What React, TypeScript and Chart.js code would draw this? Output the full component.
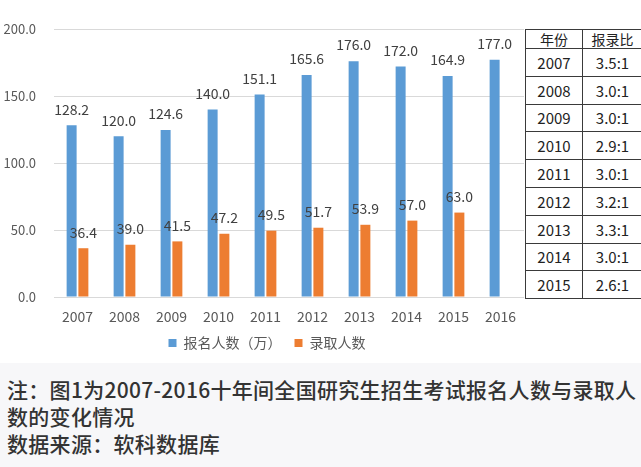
import React, { useEffect, useRef } from "react";
import { Chart, registerables } from "chart.js";

Chart.register(...registerables);

const years = ["2007", "2008", "2009", "2010", "2011", "2012", "2013", "2014", "2015", "2016"];
const applicants = [128.2, 120.0, 124.6, 140.0, 151.1, 165.6, 176.0, 172.0, 164.9, 177.0];
const admitted: (number | null)[] = [36.4, 39.0, 41.5, 47.2, 49.5, 51.7, 53.9, 57.0, 63.0, null];
const seriesNames = ["报名人数（万）", "录取人数"];
const yMin = 0;
const yMax = 200;
const yStep = 50;

const tableHeader = ["年份", "报录比"];
const tableYears = ["2007", "2008", "2009", "2010", "2011", "2012", "2013", "2014", "2015"];
const tableRatios = ["3.5:1", "3.0:1", "3.0:1", "2.9:1", "3.0:1", "3.2:1", "3.3:1", "3.0:1", "2.6:1"];

const noteLines = [
  "注：图1为2007-2016十年间全国研究生招生考试报名人数与录取人",
  "数的变化情况",
  "数据来源：软科数据库",
];

const FONT = '"Noto Sans CJK SC", "Noto Sans", sans-serif';

const valueLabels = {
  id: "valueLabels",
  afterDatasetsDraw(chart: any) {
    const ctx = chart.ctx;
    ctx.save();
    ctx.font = `14px ${FONT}`;
    ctx.fillStyle = "#404040";
    ctx.textAlign = "center";
    ctx.textBaseline = "middle";
    chart.data.datasets.forEach((ds: any, i: number) => {
      const meta = chart.getDatasetMeta(i);
      meta.data.forEach((bar: any, j: number) => {
        const v = ds.data[j];
        if (v == null) return;
        ctx.fillText(Number(v).toFixed(1), bar.x, bar.y - 16);
      });
    });
    ctx.restore();
  },
};

export default function App() {
  const ref = useRef<HTMLCanvasElement | null>(null);

  useEffect(() => {
    if (!ref.current) return;
    const chart = new Chart(ref.current, {
      type: "bar",
      data: {
        labels: years,
        datasets: [
          {
            label: seriesNames[0],
            data: applicants,
            backgroundColor: "#5b9bd5",
            categoryPercentage: 0.5,
            barPercentage: 0.85,
          },
          {
            label: seriesNames[1],
            data: admitted,
            backgroundColor: "#ed7d31",
            categoryPercentage: 0.5,
            barPercentage: 0.85,
          },
        ],
      },
      options: {
        responsive: false,
        animation: false,
        layout: { padding: { top: 29, right: 0, left: 0, bottom: 4 } },
        scales: {
          x: {
            afterFit: (s: any) => {
              s.height = 26;
            },
            grid: { display: false, drawTicks: false },
            border: { display: false },
            ticks: { color: "#595959", font: { size: 14, family: FONT }, padding: 11 },
          },
          y: {
            min: yMin,
            max: yMax,
            afterFit: (s: any) => {
              s.width = 54;
            },
            grid: { color: "#d9d9d9", drawTicks: false },
            border: { display: false },
            ticks: {
              stepSize: yStep,
              color: "#595959",
              font: { size: 13, family: FONT },
              padding: 18,
              callback: (v: any) => Number(v).toFixed(1),
            },
          },
          yRightSpacer: {
            type: "linear",
            position: "right",
            min: yMin,
            max: yMax,
            afterFit: (s: any) => {
              s.width = 10;
            },
            grid: { display: false, drawTicks: false },
            border: { display: false },
            ticks: { display: false },
          },
        },
        plugins: {
          legend: {
            position: "bottom",
            labels: {
              boxWidth: 8,
              boxHeight: 8,
              color: "#595959",
              font: { size: 14, family: FONT },
              padding: 13,
            },
          },
          tooltip: { enabled: false },
        },
      },
      plugins: [valueLabels],
    });
    return () => chart.destroy();
  }, []);

  const cell: React.CSSProperties = {
    border: "1px solid #3a3a3a",
    textAlign: "center",
    padding: 0,
    fontSize: 15,
    color: "#222",
    height: 26.8,
  };

  return (
    <div style={{ position: "absolute", left: 0, top: 0, width: 641, height: 467, background: "#fff", fontFamily: FONT, overflow: "hidden" }}>
      <canvas ref={ref} width={534} height={364} style={{ position: "absolute", left: 0, top: 0, width: 534, height: 364 }} />
      <table
        style={{
          position: "absolute",
          left: 525,
          top: 29,
          width: 118,
          borderCollapse: "collapse",
          fontFamily: FONT,
          background: "#fff",
        }}
      >
        <thead>
          <tr>
            {tableHeader.map((h) => (
              <th key={h} style={{ ...cell, height: 18, fontWeight: 400, fontSize: 14, lineHeight: "18px" }}>
                {h}
              </th>
            ))}
          </tr>
        </thead>
        <tbody>
          {tableYears.map((y, i) => (
            <tr key={y}>
              <td style={{ ...cell, width: 56 }}>{y}</td>
              <td style={cell}>{tableRatios[i]}</td>
            </tr>
          ))}
        </tbody>
      </table>
      <div
        style={{
          position: "absolute",
          left: 0,
          top: 363,
          width: 641,
          height: 104,
          background: "#f7f7f9",
          color: "#333",
          fontSize: 21,
          fontWeight: 500,
          lineHeight: "27px",
          letterSpacing: "0.3px",
          paddingTop: 13,
          paddingLeft: 7,
          boxSizing: "border-box",
          whiteSpace: "nowrap",
        }}
      >
        {noteLines.map((l, i) => (
          <div key={i}>{l}</div>
        ))}
      </div>
    </div>
  );
}
